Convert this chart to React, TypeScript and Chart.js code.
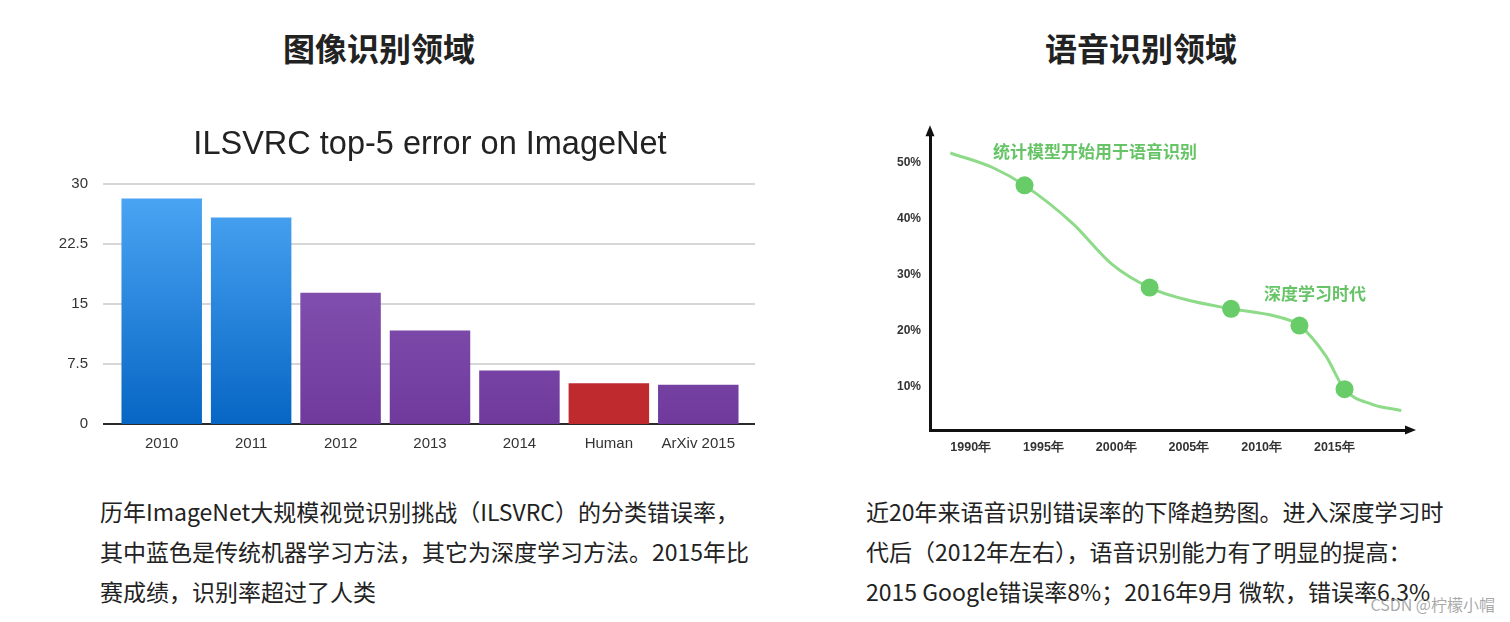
import React, { useEffect, useRef } from "react";
import { Chart, registerables } from "chart.js";

Chart.register(...registerables);

// ---------- Left chart data (ILSVRC top-5 error) ----------
const barCategories = ["2010", "2011", "2012", "2013", "2014", "Human", "ArXiv 2015"];
const barValues = [28.2, 25.8, 16.4, 11.7, 6.7, 5.1, 4.9];
const barKinds = ["blue", "blue", "purple", "purple", "purple", "red", "purple"];
const barTicks = [0, 7.5, 15, 22.5, 30];
const barTitle = "ILSVRC top-5 error on ImageNet";

// ---------- Right chart data (speech recognition error rate) ----------
const speechYears = [1988.6, 1991.5, 1993.7, 1997.0, 1999.7, 2002.3, 2004.7, 2007.9, 2010.9, 2012.6, 2014.4, 2015.7, 2017.6, 2019.6];
const speechErrors = [51.8, 49.2, 46.0, 39.2, 31.9, 27.7, 25.6, 23.9, 22.6, 20.9, 15.5, 9.5, 6.8, 5.7];
const speechMarkers = [false, false, true, false, false, true, false, true, false, true, false, true, false, false];
const speechXTicks = [1990, 1995, 2000, 2005, 2010, 2015];
const speechYTicks = [10, 20, 30, 40, 50];

const headingLeft = "图像识别领域";
const headingRight = "语音识别领域";
const noteStat = "统计模型开始用于语音识别";
const noteDeep = "深度学习时代";
const captionLeft = [
  "历年ImageNet大规模视觉识别挑战（ILSVRC）的分类错误率，",
  "其中蓝色是传统机器学习方法，其它为深度学习方法。2015年比",
  "赛成绩，识别率超过了人类",
];
const captionRight = [
  "近20年来语音识别错误率的下降趋势图。进入深度学习时",
  "代后（2012年左右），语音识别能力有了明显的提高：",
  "2015 Google错误率8%；2016年9月 微软，错误率6.3%",
];
const watermark = "CSDN @柠檬小帽";

const CJK = '"Noto Sans CJK SC", "Noto Sans", sans-serif';
const SANS = "Liberation Sans, Arial, sans-serif";

function BarChart() {
  const ref = useRef<HTMLCanvasElement>(null);
  useEffect(() => {
    const canvas = ref.current!;
    const gradCache: Record<string, CanvasGradient> = {};
    const colorFor = (ctx: any) => {
      const kind = barKinds[ctx.dataIndex];
      const area = ctx.chart.chartArea;
      if (kind === "red") return "#bf2a2e";
      if (!area) return kind === "blue" ? "#2a86dc" : "#7c4aab";
      const key = kind + area.top + area.bottom;
      if (!gradCache[key]) {
        const g = ctx.chart.ctx.createLinearGradient(0, area.top, 0, area.bottom);
        if (kind === "blue") {
          g.addColorStop(0, "#4ea8f6");
          g.addColorStop(1, "#0766c4");
        } else {
          g.addColorStop(0, "#8e5fbc");
          g.addColorStop(1, "#6f3a9c");
        }
        gradCache[key] = g;
      }
      return gradCache[key];
    };
    const gridPlugin = {
      id: "extGrid",
      beforeDatasetsDraw(chart: any) {
        const { ctx, chartArea } = chart;
        const y = chart.scales.y;
        ctx.save();
        y.ticks.forEach((t: any) => {
          const py = Math.round(y.getPixelForValue(t.value));
          ctx.beginPath();
          if (t.value === 0) {
            ctx.strokeStyle = "#2a2a2a";
            ctx.lineWidth = 2;
          } else {
            ctx.strokeStyle = "#c9c9c9";
            ctx.lineWidth = 1.5;
          }
          ctx.moveTo(chartArea.left - 14, py);
          ctx.lineTo(chartArea.right + 12, py);
          ctx.stroke();
        });
        ctx.restore();
      },
    };
    const chart = new Chart(canvas, {
      type: "bar",
      data: {
        labels: barCategories,
        datasets: [
          {
            data: barValues,
            backgroundColor: colorFor,
            barPercentage: 0.9,
            categoryPercentage: 1,
          },
        ],
      },
      options: {
        animation: false,
        responsive: false,
        maintainAspectRatio: false,
        layout: { padding: 0 },
        plugins: {
          legend: { display: false },
          tooltip: { enabled: false },
          title: {
            display: true,
            text: barTitle,
            color: "#222",
            font: { family: SANS, size: 32.5, weight: "normal" },
            padding: { top: 11, bottom: 19 },
          },
        },
        scales: {
          x: {
            grid: { display: false },
            border: { display: false },
            ticks: {
              color: "#333",
              font: { family: SANS, size: 15 },
              padding: 3,
              maxRotation: 0,
              autoSkip: false,
            },
            afterFit: (s: any) => {
              s.height = 36;
            },
          },
          y: {
            min: 0,
            max: 30,
            grid: { display: false },
            border: { display: false },
            afterBuildTicks: (s: any) => {
              s.ticks = barTicks.map((v) => ({ value: v }));
            },
            ticks: {
              color: "#333",
              font: { family: SANS, size: 15 },
              padding: 21,
              callback: (v: any) => String(v),
            },
            afterFit: (s: any) => {
              s.width = 67;
            },
          },
          yRight: {
            position: "right",
            display: true,
            min: 0,
            max: 30,
            grid: { display: false },
            border: { display: false },
            ticks: { display: false },
            afterFit: (s: any) => {
              s.width = 67;
            },
          },
        },
      },
      plugins: [gridPlugin],
    });
    return () => chart.destroy();
  }, []);
  return (
    <canvas
      ref={ref}
      width={760}
      height={345}
      style={{ position: "absolute", left: 50, top: 115, width: 760, height: 345 }}
    />
  );
}

function LineChart() {
  const ref = useRef<HTMLCanvasElement>(null);
  useEffect(() => {
    const canvas = ref.current!;
    const arrowPlugin = {
      id: "arrows",
      afterDraw(chart: any) {
        const { ctx, chartArea } = chart;
        ctx.save();
        ctx.fillStyle = "#111";
        ctx.beginPath();
        ctx.moveTo(chartArea.left, chartArea.top - 6);
        ctx.lineTo(chartArea.left - 4.5, chartArea.top + 5);
        ctx.lineTo(chartArea.left + 4.5, chartArea.top + 5);
        ctx.closePath();
        ctx.fill();
        ctx.beginPath();
        ctx.moveTo(chartArea.right + 6, chartArea.bottom);
        ctx.lineTo(chartArea.right - 5, chartArea.bottom - 4.5);
        ctx.lineTo(chartArea.right - 5, chartArea.bottom + 4.5);
        ctx.closePath();
        ctx.fill();
        ctx.restore();
      },
    };
    const chart = new Chart(canvas, {
      type: "line",
      data: {
        datasets: [
          {
            data: speechYears.map((x, i) => ({ x, y: speechErrors[i] })),
            borderColor: "#8ddb88",
            borderWidth: 3,
            cubicInterpolationMode: "monotone",
            pointRadius: speechMarkers.map((m) => (m ? 9 : 0)),
            pointBackgroundColor: "#68cc68",
            pointBorderWidth: 0,
            clip: false,
          },
        ],
      },
      options: {
        animation: false,
        responsive: false,
        maintainAspectRatio: false,
        layout: { padding: { left: 0, right: 20, top: 13, bottom: 0 } },
        plugins: { legend: { display: false }, tooltip: { enabled: false } },
        scales: {
          x: {
            type: "linear",
            min: 1987.2,
            max: 2020.2,
            grid: { display: false, drawTicks: false },
            border: { display: true, color: "#111", width: 3 },
            afterBuildTicks: (s: any) => {
              s.ticks = speechXTicks.map((v) => ({ value: v }));
            },
            ticks: {
              color: "#333",
              font: { family: SANS, size: 12.5, weight: "bold" },
              padding: 10,
              maxRotation: 0,
              callback: (v: any) => v + "年",
            },
            afterFit: (s: any) => {
              s.height = 45;
            },
          },
          y: {
            min: 2.2,
            max: 55.7,
            grid: { display: false, drawTicks: false },
            border: { display: true, color: "#111", width: 3 },
            afterBuildTicks: (s: any) => {
              s.ticks = speechYTicks.map((v) => ({ value: v }));
            },
            ticks: {
              color: "#333",
              font: { family: SANS, size: 12, weight: "bold" },
              padding: 9,
              callback: (v: any) => v + "%",
            },
            afterFit: (s: any) => {
              s.width = 50;
            },
          },
        },
      },
      plugins: [arrowPlugin],
    });
    return () => chart.destroy();
  }, []);
  return (
    <canvas
      ref={ref}
      width={550}
      height={360}
      style={{ position: "absolute", left: 880, top: 115, width: 550, height: 360 }}
    />
  );
}

export default function App() {
  const heading: React.CSSProperties = {
    position: "absolute",
    top: 27,
    width: 300,
    textAlign: "center",
    fontFamily: CJK,
    fontWeight: 700,
    fontSize: 32,
    lineHeight: "40px",
    color: "#222",
  };
  const caption: React.CSSProperties = {
    position: "absolute",
    top: 491,
    fontFamily: CJK,
    fontSize: 23,
    lineHeight: "40px",
    color: "#222",
    whiteSpace: "nowrap",
  };
  const note: React.CSSProperties = {
    position: "absolute",
    fontFamily: CJK,
    fontWeight: 700,
    fontSize: 17,
    lineHeight: "20px",
    color: "#66c466",
    whiteSpace: "nowrap",
  };
  return (
    <div style={{ position: "fixed", left: 0, top: 0, width: 1510, height: 622, background: "#fff", overflow: "hidden" }}>
      <div style={{ ...heading, left: 229 }}>{headingLeft}</div>
      <div style={{ ...heading, left: 991 }}>{headingRight}</div>
      <BarChart />
      <LineChart />
      <div style={{ ...note, left: 993, top: 141 }}>{noteStat}</div>
      <div style={{ ...note, left: 1264, top: 283 }}>{noteDeep}</div>
      <div style={{ ...caption, left: 100 }}>
        {captionLeft.map((l, i) => (
          <div key={i}>{l}</div>
        ))}
      </div>
      <div style={{ ...caption, left: 866 }}>
        {captionRight.map((l, i) => (
          <div key={i}>{l}</div>
        ))}
      </div>
      <div
        style={{
          position: "absolute",
          right: 15,
          top: 594,
          fontFamily: CJK,
          fontSize: 16,
          lineHeight: "20px",
          color: "rgba(140,140,140,0.75)",
          whiteSpace: "nowrap",
        }}
      >
        {watermark}
      </div>
    </div>
  );
}
